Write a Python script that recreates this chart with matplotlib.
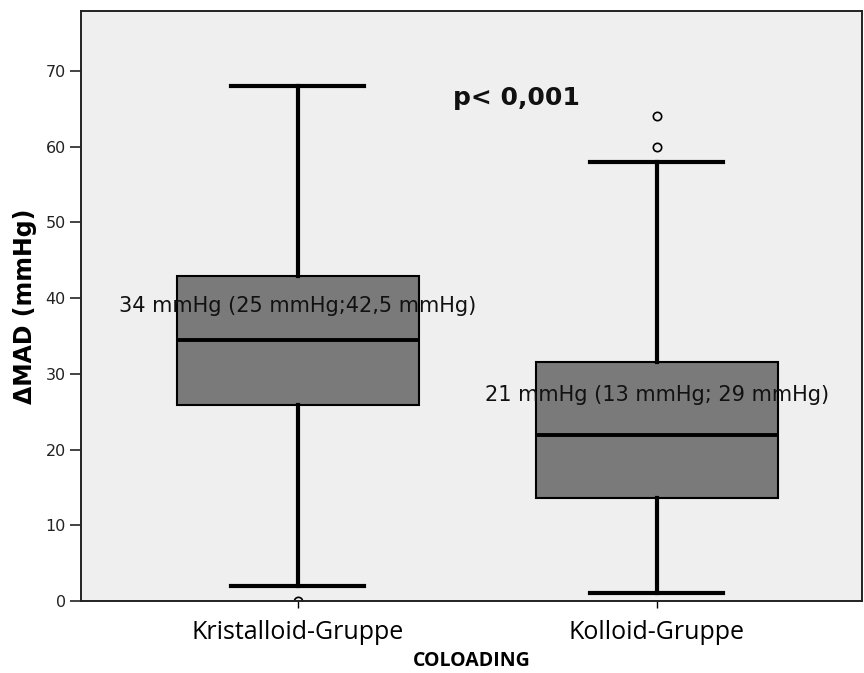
import matplotlib
matplotlib.use('Agg')
import matplotlib.pyplot as plt

GROUPS = ['Kristalloid-Gruppe', 'Kolloid-Gruppe']
MEDIANS = [34.5, 21.9]
Q1 = [25.9, 13.6]
Q3 = [42.9, 31.5]
WHISLO = [2.0, 1.0]
WHISHI = [68.0, 58.0]
FLIERS = [[0.0], [60.0, 64.0]]
LABELS = ['34 mmHg (25 mmHg;42,5 mmHg)', '21 mmHg (13 mmHg; 29 mmHg)']
LABEL_Y = [39.0, 27.2]
P_TEXT = 'p< 0,001'


def main() -> int:
    fig = plt.figure(figsize=(8.64, 6.73), dpi=100)
    fig.patch.set_facecolor('white')
    ax = fig.add_axes([81 / 864, 72 / 673, 781 / 864, 590 / 673])
    ax.set_facecolor('#efefef')

    stats = []
    for i, g in enumerate(GROUPS):
        stats.append({'label': g, 'med': MEDIANS[i], 'q1': Q1[i], 'q3': Q3[i],
                      'whislo': WHISLO[i], 'whishi': WHISHI[i], 'fliers': FLIERS[i]})

    ax.bxp(stats, positions=[1, 2], widths=0.674, patch_artist=True,
           boxprops=dict(facecolor='#7a7a7a', edgecolor='black', linewidth=1.5),
           medianprops=dict(color='black', linewidth=2.8),
           whiskerprops=dict(color='black', linewidth=3.0),
           capprops=dict(color='black', linewidth=3.0),
           capwidths=0.37,
           flierprops=dict(marker='o', markerfacecolor='none', markeredgecolor='black',
                           markersize=6, markeredgewidth=1.2))

    ax.set_xlim(0.396, 2.572)
    ax.set_ylim(0, 77.9)
    ax.set_yticks([0, 10, 20, 30, 40, 50, 60, 70])
    ax.tick_params(axis='y', labelsize=11.5, length=8, width=1.2, colors='#222222', pad=3)
    ax.tick_params(axis='x', labelsize=18, length=5, width=1.0, pad=9)
    for lab in ax.get_xticklabels():
        lab.set_family('Open Sans')

    for i in range(len(GROUPS)):
        ax.text(i + 1, LABEL_Y[i], LABELS[i], ha='center', va='center',
                fontsize=15, color='#111111', family='DejaVu Sans')
    ax.text(1.61, 66.4, P_TEXT, ha='center', va='center', fontsize=18,
            fontweight='bold', color='#111111', family='DejaVu Sans')

    ax.set_ylabel('ΔMAD (mmHg)', fontsize=17, fontweight='bold', labelpad=6)
    ax.set_xlabel('COLOADING', fontsize=14, fontweight='bold', labelpad=4,
                  family='Open Sans')

    for s in ax.spines.values():
        s.set_linewidth(1.4)
        s.set_color('#222222')

    fig.savefig('out.png', dpi=100)
    plt.close(fig)
    return 0


if __name__ == '__main__':
    raise SystemExit(main())
